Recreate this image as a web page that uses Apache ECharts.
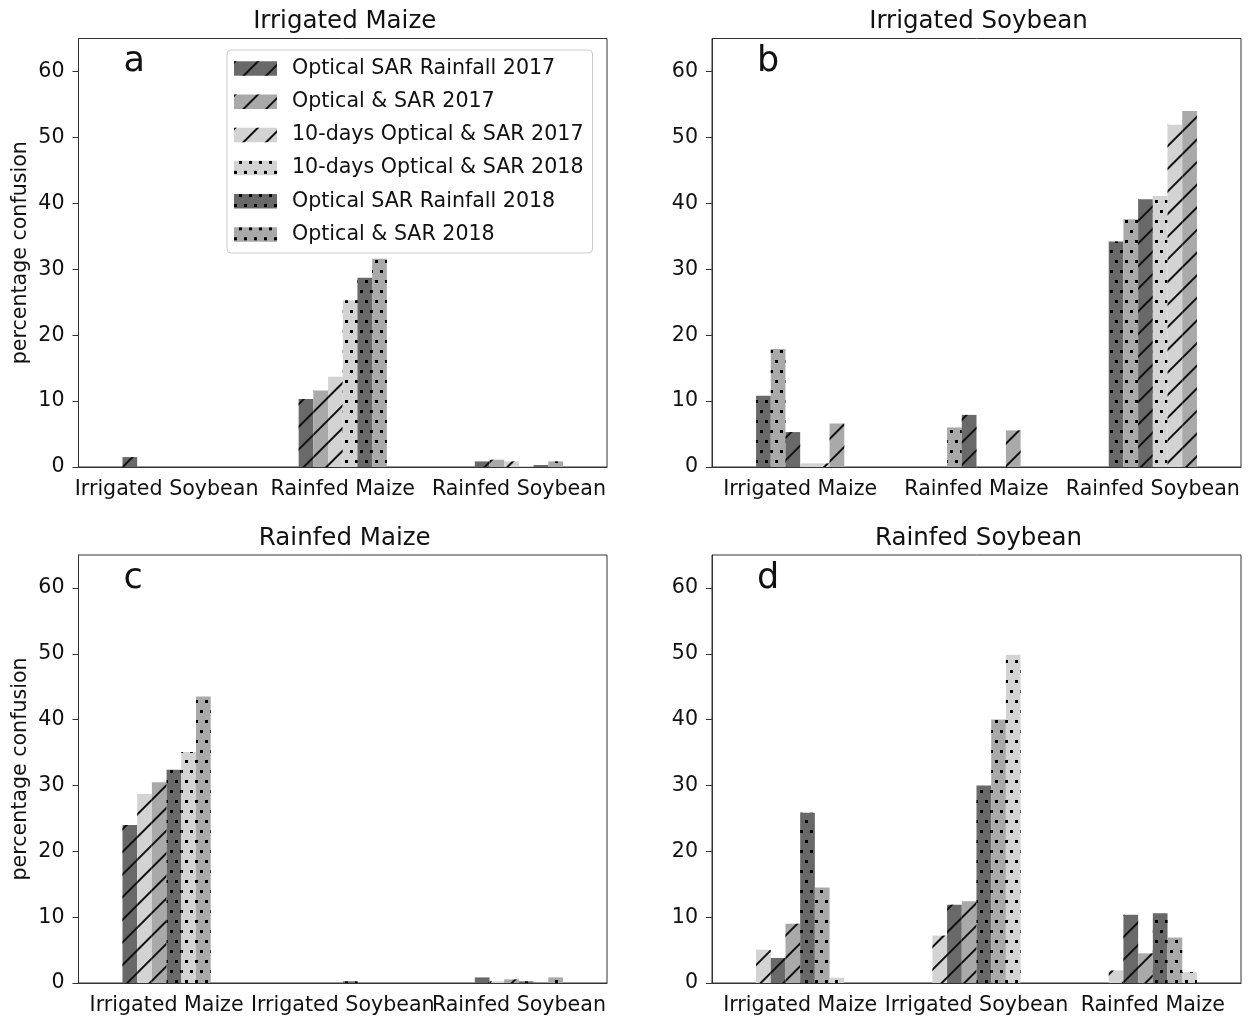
<!DOCTYPE html>
<html><head><meta charset="utf-8">
<script src="https://cdn.jsdelivr.net/npm/echarts@6/dist/echarts.min.js"></script>
<style>html,body{margin:0;padding:0;background:#fff}#c{width:1248px;height:1016px}</style>
</head><body><div id="c"></div><script>
// ---------- data ----------
const seriesNames = ['Optical SAR Rainfall 2017', 'Optical & SAR 2017', '10-days Optical & SAR 2017',
                     '10-days Optical & SAR 2018', 'Optical SAR Rainfall 2018', 'Optical & SAR 2018'];
const panelTitles = ['Irrigated Maize', 'Irrigated Soybean', 'Rainfed Maize', 'Rainfed Soybean'];
const panelLetters = ['a', 'b', 'c', 'd'];
const yTicks = [0, 10, 20, 30, 40, 50, 60];

// Panel a (Irrigated Maize)
const catsA = ['Irrigated Soybean', 'Rainfed Maize', 'Rainfed Soybean'];
const orderA = ['Optical SAR Rainfall 2017', 'Optical & SAR 2017', '10-days Optical & SAR 2017',
                '10-days Optical & SAR 2018', 'Optical SAR Rainfall 2018', 'Optical & SAR 2018'];
const valuesA = [[1.5, 10.3, 0.85], [0, 11.6, 1.1], [0, 13.7, 0.85],
                 [0, 25.3, 0.15], [0, 28.7, 0.3], [0, 31.6, 0.85]];
// Panel b (Irrigated Soybean)
const catsB = ['Irrigated Maize', 'Rainfed Maize', 'Rainfed Soybean'];
const orderB = ['Optical SAR Rainfall 2018', 'Optical & SAR 2018', 'Optical SAR Rainfall 2017',
                '10-days Optical & SAR 2018', '10-days Optical & SAR 2017', 'Optical & SAR 2017'];
const valuesB = [[10.8, 0, 34.2], [17.9, 6.0, 37.6], [5.3, 7.9, 40.6],
                 [0.55, 0, 41.1], [0.55, 0, 51.9], [6.6, 5.55, 54.0]];
// Panel c (Rainfed Maize)
const catsC = ['Irrigated Maize', 'Irrigated Soybean', 'Rainfed Soybean'];
const orderC = ['Optical SAR Rainfall 2017', '10-days Optical & SAR 2017', 'Optical & SAR 2017',
                'Optical SAR Rainfall 2018', '10-days Optical & SAR 2018', 'Optical & SAR 2018'];
const valuesC = [[24.0, 0, 0.85], [28.7, 0, 0.25], [30.5, 0, 0.55],
                 [32.4, 0.25, 0.25], [35.1, 0, 0], [43.5, 0, 0.85]];
// Panel d (Rainfed Soybean)
const catsD = ['Irrigated Maize', 'Irrigated Soybean', 'Rainfed Maize'];
const orderD = ['10-days Optical & SAR 2017', 'Optical SAR Rainfall 2017', 'Optical & SAR 2017',
                'Optical SAR Rainfall 2018', 'Optical & SAR 2018', '10-days Optical & SAR 2018'];
const valuesD = [[5.05, 7.2, 1.9], [3.8, 11.9, 10.35], [9.0, 12.4, 4.5],
                 [25.85, 30.0, 10.6], [14.5, 40.0, 6.9], [0.8, 49.85, 1.65]];

// ---------- styles ----------
const FONT = 'DejaVu Sans';
const lineDecal = { symbol: 'rect', symbolSize: 1, color: '#111', dashArrayX: [1, 0], dashArrayY: [1.5, 13.5], rotation: -Math.PI / 4 };
const dotDecal = { symbol: 'rect', symbolSize: 1, color: '#000', dashArrayX: [[3, 7], [0, 5, 3, 2]], dashArrayY: [3, 7] };
const styleOf = {
  'Optical SAR Rainfall 2017': { color: '#696969', decal: lineDecal },
  'Optical & SAR 2017': { color: '#a9a9a9', decal: lineDecal },
  '10-days Optical & SAR 2017': { color: '#d3d3d3', decal: lineDecal },
  '10-days Optical & SAR 2018': { color: '#d3d3d3', decal: dotDecal },
  'Optical SAR Rainfall 2018': { color: '#696969', decal: dotDecal },
  'Optical & SAR 2018': { color: '#a9a9a9', decal: dotDecal }
};

const panels = [
  { cats: catsA, order: orderA, values: valuesA, grid: { left: 78.5, top: 38.5, width: 528.5, height: 428.5 }, yName: true },
  { cats: catsB, order: orderB, values: valuesB, grid: { left: 712, top: 38.5, width: 529, height: 428.5 }, yName: false },
  { cats: catsC, order: orderC, values: valuesC, grid: { left: 78.5, top: 555, width: 528.5, height: 429 }, yName: true },
  { cats: catsD, order: orderD, values: valuesD, grid: { left: 712, top: 555, width: 529, height: 429 }, yName: false }
];

const AX = '#333';
const grids = [], xAxes = [], yAxes = [], series = [], titles = [];
panels.forEach((p, i) => {
  grids.push(Object.assign({ show: true, borderColor: AX, borderWidth: 1, backgroundColor: 'transparent' }, p.grid));
  xAxes.push({
    type: 'category', gridIndex: i, data: p.cats,
    axisLine: { lineStyle: { color: AX, width: 1 } },
    axisTick: { alignWithLabel: true, length: 6, lineStyle: { color: AX } },
    axisLabel: { interval: 0, margin: 12, fontSize: 20.6, color: '#111', fontFamily: FONT },
    splitLine: { show: false }
  });
  yAxes.push({
    type: 'value', gridIndex: i, min: 0, max: 65,
    name: p.yName ? 'percentage confusion' : '', nameLocation: 'middle', nameRotate: 90, nameGap: 47,
    nameTextStyle: { fontSize: 20.6, color: '#111', fontFamily: FONT },
    axisLine: { show: true, lineStyle: { color: AX, width: 1 } },
    axisTick: { show: true, length: 6, customValues: yTicks, lineStyle: { color: AX } },
    axisLabel: { customValues: yTicks, margin: 14, fontSize: 20.6, color: '#111', fontFamily: FONT },
    splitLine: { show: false }
  });
  p.order.forEach((name, j) => {
    series.push({
      type: 'bar', name: name, xAxisIndex: i, yAxisIndex: i, data: p.values[j],
      barWidth: 14.7, barGap: '0%',
      itemStyle: { color: styleOf[name].color, decal: styleOf[name].decal },
      emphasis: { disabled: true }
    });
  });
  const cx = p.grid.left + p.grid.width / 2;
  titles.push({ text: panelTitles[i], left: cx - 3, top: p.grid.top - 34, textAlign: 'center',
    textStyle: { fontSize: 24.5, fontWeight: 'normal', color: '#111', fontFamily: FONT } });
  titles.push({ text: panelLetters[i], left: p.grid.left + 40, top: p.grid.top + 1,
    textStyle: { fontSize: 35, fontWeight: 'normal', color: '#111', fontFamily: FONT } });
});

const chart = echarts.init(document.getElementById('c'), null, { renderer: 'canvas' });
chart.setOption({
  animation: false,
  backgroundColor: '#fff',
  title: titles,
  legend: {
    data: seriesNames, orient: 'vertical', left: 227, top: 50,
    padding: [8, 9, 8, 7], itemWidth: 43, itemHeight: 14.5, itemGap: 12.2, icon: 'rect',
    backgroundColor: 'rgba(255,255,255,0.8)', borderColor: '#ccc', borderWidth: 1, borderRadius: 4,
    textStyle: { fontSize: 20.6, color: '#111', fontFamily: FONT, padding: [0, 0, 0, 10] },
    selectedMode: false
  },
  grid: grids, xAxis: xAxes, yAxis: yAxes, series: series
});
</script></body></html>
